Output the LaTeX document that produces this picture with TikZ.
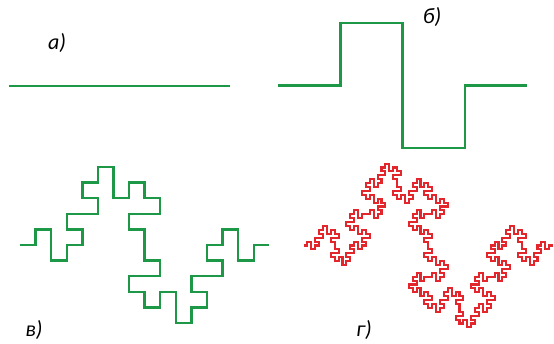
\documentclass[tikz,border=0pt]{standalone}
\usepackage{fontspec}
\setmainfont{Carlito}
\usetikzlibrary{lindenmayersystems}
\pgfdeclarelindenmayersystem{Minkowski}{\rule{F -> F+F-F-FF+F+F-F}}
\definecolor{fgreen}{RGB}{28,152,70}
\definecolor{fred}{RGB}{226,38,44}
\begin{document}
\begin{tikzpicture}[x=1pt,y=1pt,
  gline/.style={draw=fgreen,line width=2.4pt,line join=miter},
  rline/.style={draw=fred,line width=2.1pt,line join=miter},
  lab/.style={font=\fontsize{22}{22}\selectfont\itshape,inner sep=0pt,text=black}]
\useasboundingbox (0,0) rectangle (554,343);
% a) straight line
\draw[gline] (8.5,257) -- (230,257);
% b) order 1
\begin{scope}[shift={(278,257.5)}]
\draw[gline,lindenmayer system={Minkowski, axiom=F, order=1, step=62.3pt, angle=90}] lindenmayer system;
\end{scope}
% v) order 2
\begin{scope}[shift={(20,98)}]
\draw[gline,lindenmayer system={Minkowski, axiom=F, order=2, step=15.58pt, angle=90}] lindenmayer system;
\end{scope}
% g) order 3
\begin{scope}[shift={(303.5,97.5)}]
\draw[rline,lindenmayer system={Minkowski, axiom=F, order=3, step=3.9pt, angle=90}] lindenmayer system;
\end{scope}
% labels
\node[lab] (la) at (57,300) {а)};
\node[lab] (lb) at (432,326) {б)};
\node[lab] (lv) at (34,13) {в)};
\node[lab] (lg) at (364,13) {г)};
\end{tikzpicture}
\end{document}
